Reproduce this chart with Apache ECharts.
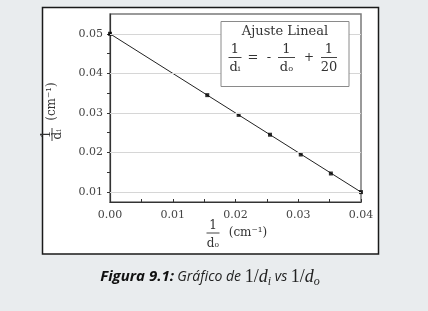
<!DOCTYPE html>
<html><head><meta charset="utf-8">
<script src="https://cdn.jsdelivr.net/npm/echarts@6/dist/echarts.min.js"></script>
<style>html,body{margin:0;padding:0;background:#e9ecee;}#c{width:428px;height:311px;}</style>
</head><body><div id="c"></div>
<script>
// Data
const xValues = [0, 0.0155, 0.0205, 0.0255, 0.0304, 0.0352, 0.04];
const yValues = [0.05, 0.0345, 0.0295, 0.0245, 0.0195, 0.0147, 0.0100];
const fitX = [0, 0.04];
const fitY = [0.05, 0.01];
const xTickLabels = [0, 0.01, 0.02, 0.03, 0.04];
const xTicks = [0, 0.005, 0.01, 0.015, 0.02, 0.025, 0.03, 0.035, 0.04];
const yTickLabels = [0.01, 0.02, 0.03, 0.04, 0.05];
const yTicks = [0.01, 0.015, 0.02, 0.025, 0.03, 0.035, 0.04, 0.045, 0.05];

const SERIF = 'DejaVu Serif';
const chart = echarts.init(document.getElementById('c'), null, {renderer: 'canvas'});

function txt(x, y, s, size, z) {
  return {type: 'text', z: z, x: x, y: y, style: {text: s, font: size + 'px "' + SERIF + '"', fill: '#333', align: 'center', verticalAlign: 'middle', textAlign: 'center', textVerticalAlign: 'middle'}};
}
function frac(cx, top, num, den, barHalf, size, z) {
  return [
    txt(cx, top, num, size, z),
    {type: 'line', z: z, shape: {x1: cx - barHalf, y1: top + 7.5, x2: cx + barHalf, y2: top + 7.5}, style: {stroke: '#444', lineWidth: 1}},
    txt(cx, top + 18, den, size, z)
  ];
}

const Z = 50;
const option = {
  backgroundColor: '#e9ecee',
  animation: false,
  grid: {left: 110, top: 14, right: 67, bottom: 109, show: true, borderColor: '#7a7a7a', borderWidth: 1.5, backgroundColor: 'transparent'},
  xAxis: {
    type: 'value', min: 0, max: 0.04,
    axisLine: {show: true, lineStyle: {color: '#333', width: 1.2}},
    axisTick: {show: true, customValues: xTicks, inside: true, length: 3, lineStyle: {color: '#333'}},
    axisLabel: {customValues: xTickLabels, formatter: v => v.toFixed(2), fontFamily: SERIF, fontSize: 11, color: '#444', margin: 8},
    splitLine: {show: false}
  },
  yAxis: {
    type: 'value', min: 0.0075, max: 0.055,
    axisLine: {show: true, lineStyle: {color: '#333', width: 1.2}},
    axisTick: {show: true, customValues: yTicks, inside: false, length: 3, lineStyle: {color: '#333'}},
    axisLabel: {customValues: yTickLabels, formatter: v => v.toFixed(2), fontFamily: SERIF, fontSize: 11, color: '#444', margin: 7},
    splitLine: {show: false}
  },
  series: [
    {
      type: 'line', z: 1, data: [], silent: true,
      markLine: {silent: true, symbol: 'none', label: {show: false},
        lineStyle: {color: '#d6d6d6', type: 'solid', width: 1},
        data: yTickLabels.map(v => ({yAxis: v}))}
    },
    {
      type: 'line', z: 3, showSymbol: false, silent: true,
      data: fitX.map((x, i) => [x, fitY[i]]),
      lineStyle: {color: '#222', width: 1}
    },
    {
      type: 'scatter', z: 4, symbol: 'rect', symbolSize: 4,
      data: xValues.map((x, i) => [x, yValues[i]]),
      itemStyle: {color: '#000'}
    }
  ],
  graphic: [
    {type: 'rect', z: -1, shape: {x: 42.5, y: 7.5, width: 336, height: 246.5}, style: {fill: '#fff', stroke: '#1a1a1a', lineWidth: 1.5}},
    {type: 'rect', z: Z, shape: {x: 221, y: 21.5, width: 128, height: 65}, style: {fill: '#fff', stroke: '#8a8a8a', lineWidth: 1}},
    txt(285, 32, 'Ajuste Lineal', 13, Z + 1)
  ]
  .concat(frac(235, 50, '1', 'd\u1d62', 6.5, 13, Z + 1))
  .concat([txt(253, 58, '=', 13, Z + 1), txt(269, 58, '-', 13, Z + 1)])
  .concat(frac(286.5, 50, '1', 'd\u2092', 8.5, 13, Z + 1))
  .concat([txt(309, 58, '+', 12, Z + 1)])
  .concat(frac(329, 50, '1', '20', 8, 13, Z + 1))
  // x-axis name
  .concat(frac(213, 225.5, '1', 'd\u2092', 6.5, 12, Z))
  .concat([txt(248, 233, '(cm\u207b\u00b9)', 12, Z)])
  .concat([
    // y-axis name (rotated)
    {type: 'group', x: 52, y: 112, rotation: Math.PI / 2, children: [
      txt(-22.5, -5.5, '1', 12, Z),
      {type: 'line', z: Z, shape: {x1: -29, y1: 0, x2: -16, y2: 0}, style: {stroke: '#444', lineWidth: 1}},
      txt(-22.5, 6, 'd\u1d62', 12, Z),
      txt(10.5, 0, '(cm\u207b\u00b9)', 12, Z)
    ]},
    // caption
    {type: 'text', z: Z, x: 210, y: 277, style: {
      text: '{b|Figura 9.1:} {i|Gráfico de }{m|1/}{mi|d}{sub|i}{i| vs }{m|1/}{mi|d}{sub|o}',
      align: 'center', verticalAlign: 'middle', textAlign: 'center', textVerticalAlign: 'middle',
      rich: {
        b: {fontFamily: 'Open Sans', fontStyle: 'italic', fontWeight: 'bold', fontSize: 15, fill: '#111', color: '#111', lineHeight: 22, verticalAlign: 'middle'},
        i: {fontFamily: 'Open Sans', fontStyle: 'italic', fontSize: 14, fill: '#222', color: '#222', lineHeight: 22, verticalAlign: 'middle'},
        m: {fontFamily: 'Liberation Serif', fontSize: 18, fill: '#222', color: '#222', lineHeight: 22, verticalAlign: 'middle'},
        mi: {fontFamily: 'Liberation Serif', fontStyle: 'italic', fontSize: 18, fill: '#222', color: '#222', lineHeight: 22, verticalAlign: 'middle'},
        sub: {fontFamily: 'Liberation Serif', fontStyle: 'italic', fontSize: 12, fill: '#222', color: '#222', lineHeight: 13, verticalAlign: 'bottom'}
      }
    }}
  ])
};
chart.setOption(option);
</script></body></html>
